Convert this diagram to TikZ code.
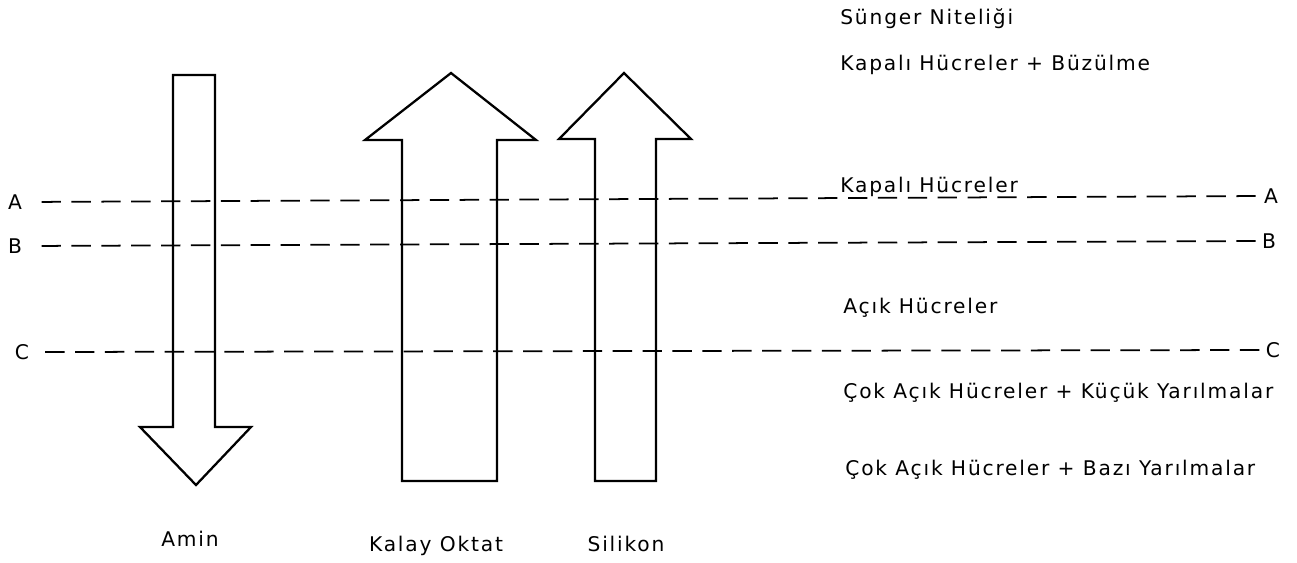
\documentclass[tikz,border=0pt]{standalone}
\usepackage{fontspec}
\setmainfont{DejaVu Sans}
\newfontfamily\lettering[LetterSpace=9]{DejaVu Sans}
\usetikzlibrary{calc}

\begin{document}
\begin{tikzpicture}[x=0.02cm, y=-0.02cm,
  outline/.style={draw, line width=1.3pt, line join=miter},
  guide/.style={line width=1pt, dash pattern=on 11pt off 6pt},
  level/.style={font=\lettering\fontsize{11.5}{13}\selectfont, inner sep=1pt},
  note/.style={font=\lettering\fontsize{11.5}{13}\selectfont, anchor=west, inner sep=0pt},
  agent/.style={font=\lettering\fontsize{11.5}{13}\selectfont, anchor=base, inner sep=0pt},
]
\useasboundingbox (0,0) rectangle (1297,562);

% Amin (down)
\draw[outline] (173,75) -- (215,75) -- (215,427) -- (251,427) -- (196,485)
  -- (140,427) -- (173,427) -- cycle;
% Kalay Oktat (up)
\draw[outline] (402,481) -- (402,140) -- (365,140) -- (451,73) -- (536,140)
  -- (497,140) -- (497,481) -- cycle;
% Silikon (up)
\draw[outline] (595,481) -- (595,139) -- (559,139) -- (624,73) -- (691,139)
  -- (656,139) -- (656,481) -- cycle;

\node[level] (aL) at (15,202) {A};
\node[level] (bL) at (15,246) {B};
\node[level] (cL) at (22,352) {C};
\node[level] (aR) at (1271,196) {A};
\node[level] (bR) at (1269,241) {B};
\node[level] (cR) at (1273,350) {C};

\draw[guide, shorten <=10pt] (aL.east) -- (aR.west);
\draw[guide, shorten <=10pt] (bL.east) -- (bR.west);
\draw[guide, shorten <=8pt] (cL.east) -- (cR.west);

\node[note] (title) at (840,19) {Sünger Niteliği};
\node[note] (kb) at (840,65) {Kapalı Hücreler + Büzülme};
\node[note] (kh) at (840,187) {Kapalı Hücreler};
\node[note] (ah) at (843,308) {Açık Hücreler};
\node[note] (ck) at (843,393) {Çok Açık Hücreler + Küçük Yarılmalar};
\node[note] (cb) at (845,470) {Çok Açık Hücreler + Bazı Yarılmalar};

\node[agent] (amin) at (190,546) {Amin};
\node[agent] (kalay) at (436,551) {Kalay Oktat};
\node[agent] (sil) at (626,551) {Silikon};
\end{tikzpicture}
\end{document}
